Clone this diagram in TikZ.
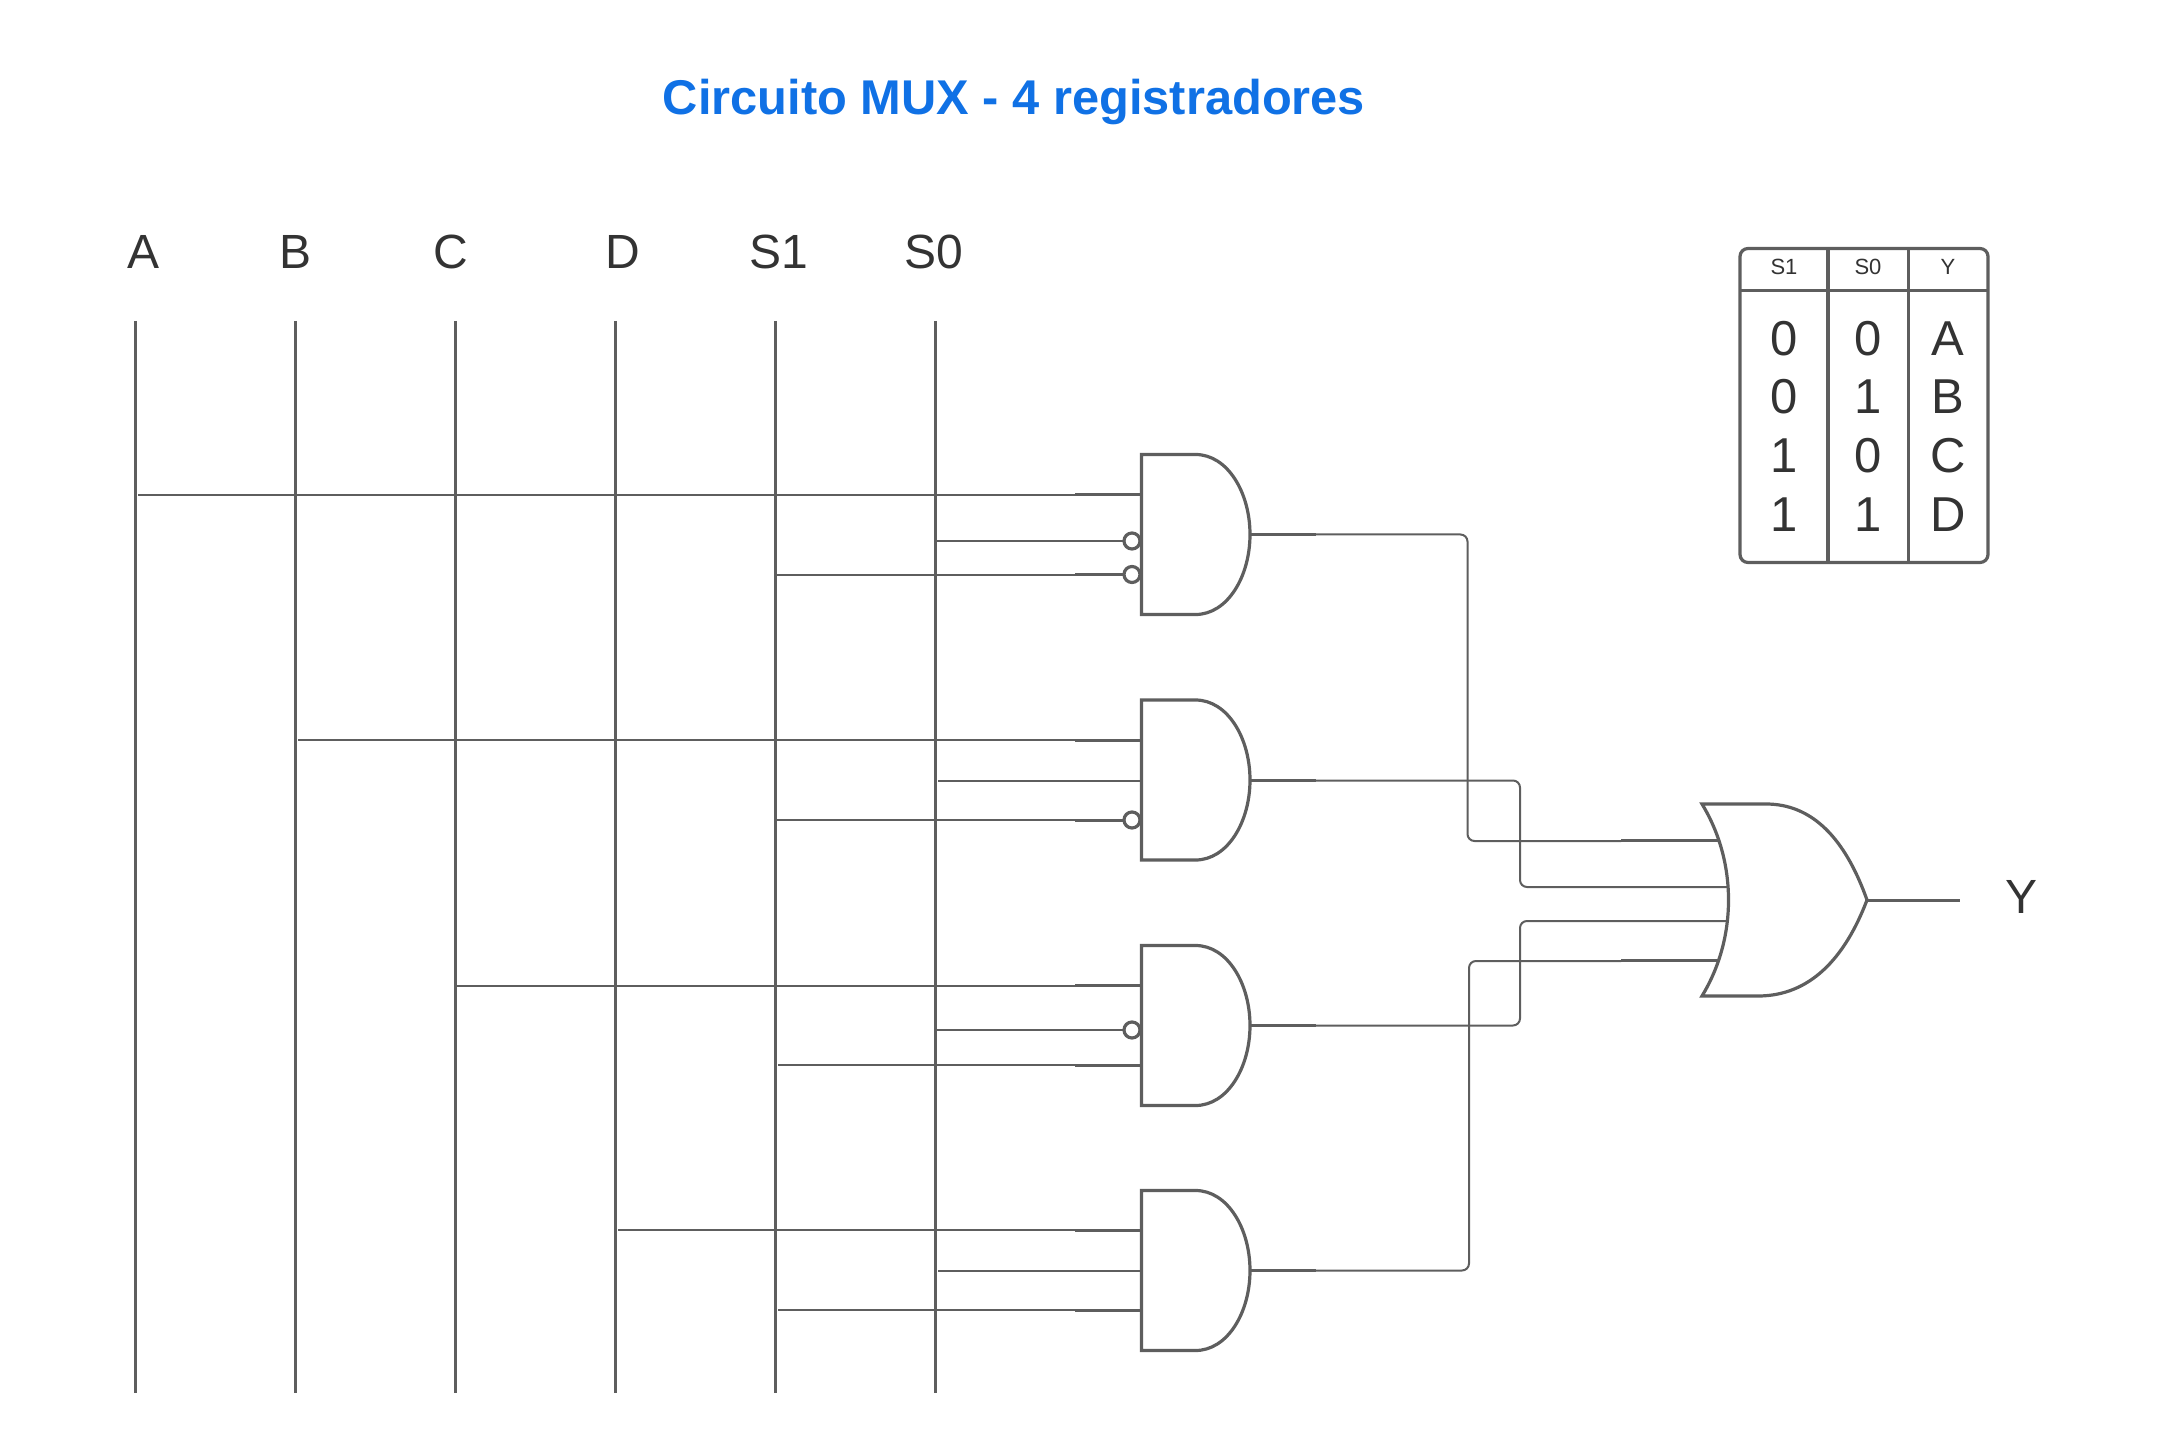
\documentclass[tikz,border=0pt]{standalone}
\usepackage{fontspec}
\setmainfont{Liberation Sans}
\definecolor{wirec}{HTML}{5E5E5E}
\definecolor{textc}{HTML}{333333}
\definecolor{titlec}{HTML}{1071E5}
\tikzset{
  wire/.style={draw=wirec,line width=1pt},
  lead/.style={draw=wirec,line width=1.5pt},
  bus/.style={draw=wirec,line width=1.5pt},
  gateline/.style={draw=wirec,line width=1.6pt,fill=white,line join=miter},
  bubble/.style={circle,draw=wirec,line width=1.6pt,fill=white,inner sep=0pt,minimum size=8pt},
  lbl/.style={text=textc,font=\fontsize{24}{26}\selectfont,inner sep=0pt},
  small/.style={text=textc,font=\fontsize{11}{13}\selectfont,inner sep=0pt},
  cell/.style={text=textc,font=\fontsize{24.5}{26}\selectfont,inner sep=0pt},
  tabline/.style={draw=wirec,line width=1.6pt},
  tabdiv/.style={draw=wirec,line width=1.9pt},
  andgate/.pic={\path[gateline] (0,0) -- (0,160) -- (54,160) .. controls (86,160) and (108.5,122) .. (108.5,80) .. controls (108.5,38) and (86,0) .. (54,0) -- cycle;}
}
\begin{document}
\begin{tikzpicture}[x=0.5pt,y=-0.5pt]
\useasboundingbox (0,0) rectangle (2180,1433);
% title and labels
\node[text=titlec,font=\bfseries\fontsize{24.4}{30}\selectfont,inner sep=0pt] (title) at (1014,102) {Circuito MUX - 4 registradores};
\node[lbl] (la) at (144,251.5) {A};
\node[lbl] (lb) at (296,251.5) {B};
\node[lbl] (lc) at (451,251.5) {C};
\node[lbl] (ld) at (623,251.5) {D};
\node[lbl] (ls1) at (779,251.5) {S1};
\node[lbl] (ls0) at (934,251.5) {S0};
\node[lbl] (ly) at (2021,897) {Y};
% buses
\foreach \n/\x in {a/135.5,b/295.5,c/455.5,d/615.5,s/775.5,r/935.5}{
  \coordinate (\n t) at (\x,321);
  \coordinate (\n b) at (\x,1393);
  \draw[bus] (\n t) -- (\n b);
}
% gate input wires: name / start x / y / lead-start x / end x / lead y
\foreach \n/\xa/\y/\xb/\xc/\yy in {
  i1/138/495/1075/1141/494.5, i2/936/541/1124/1124/541, i3/776/575/1075/1125/574.5,
  j1/298/740/1075/1141/740, j2/938/781/1141/1141/781, j3/776/820/1075/1125/820,
  k1/455/986/1075/1141/985.5, k2/936/1030/1124/1124/1030, k3/778/1065/1075/1141/1065,
  l1/618/1230/1075/1141/1230.5, l2/938/1271/1141/1141/1271, l3/778/1310/1075/1141/1310.5}{
  \coordinate (\n s) at (\xa,\y);
  \coordinate (\n m) at (\xb,\y);
  \coordinate (\n u) at (\xb,\yy);
  \coordinate (\n e) at (\xc,\yy);
  \draw[wire] (\n s) -- (\n m);
  \draw[lead] (\n u) -- (\n e);
}
% and gates
\coordinate (g1) at (1141.5,454.5);
\coordinate (g2) at (1141.5,700);
\coordinate (g3) at (1141.5,945.5);
\coordinate (g4) at (1141.5,1190.5);
\foreach \n in {g1,g2,g3,g4}{\pic at (\n) {andgate};}
% bubbles
\node[bubble] (b1) at (1132,541) {};
\node[bubble] (b2) at (1132,574.5) {};
\node[bubble] (b3) at (1132,820) {};
\node[bubble] (b4) at (1132,1030) {};
% outputs
\coordinate (o1) at (1250,534.5);
\coordinate (o2) at (1250,780.5);
\coordinate (o3) at (1250,1025.5);
\coordinate (o4) at (1250,1270.5);
\coordinate (p1) at (1316,534.5);
\coordinate (p2) at (1316,780.5);
\coordinate (p3) at (1316,1025.5);
\coordinate (p4) at (1316,1270.5);
\foreach \n in {1,2,3,4}{\draw[lead] (o\n) -- (p\n);}
% or inputs
\coordinate (q1) at (1621,841);
\coordinate (q4) at (1621,961);
\coordinate (u1) at (1621,840);
\coordinate (u4) at (1621,960);
\coordinate (r1) at (1718,840);
\coordinate (r2) at (1728,887);
\coordinate (r3) at (1726,921);
\coordinate (r4) at (1718,960);
\draw[wire,rounded corners=3.5pt] (p1) -- (1467.5,534.5) -- (1467.5,841) -- (q1);
\draw[wire,rounded corners=3.5pt] (p2) -- (1520,780.5) -- (1520,887) -- (r2);
\draw[wire,rounded corners=3.5pt] (p3) -- (1520,1025.5) -- (1520,921) -- (r3);
\draw[wire,rounded corners=3.5pt] (p4) -- (1469,1270.5) -- (1469,961) -- (q4);
\draw[lead] (u1) -- (r1);
\draw[lead] (u4) -- (r4);
% or gate
\path[gateline] (1702,804) -- (1766,804) .. controls (1812,804) and (1845,838) .. (1867,900)
  .. controls (1845,958) and (1810,996) .. (1758,996) -- (1702,996)
  .. controls (1719,968) and (1728.5,935) .. (1728.5,900) .. controls (1728.5,865) and (1719,832) .. (1702,804) -- cycle;
\coordinate (ot) at (1867,900);
\coordinate (oe) at (1960,900);
\draw[lead] (ot) -- (oe);
% table
\coordinate (tl) at (1740,248.5);
\coordinate (br) at (1988,562.5);
\draw[tabline,rounded corners=4pt] (tl) rectangle (br);
\draw[tabline] (1740,290.5) -- (1988,290.5);
\draw[tabdiv] (1828,248) -- (1828,563);
\draw[tabdiv] (1908.5,248) -- (1908.5,563);
\node[small] (h1) at (1784,267) {S1};
\node[small] (h2) at (1868,267) {S0};
\node[small] (h3) at (1948,267) {Y};
\foreach \y/\u/\v/\w [count=\i] in {338.5/0/0/A,397/0/1/B,456/1/0/C,515/1/1/D}{
  \node[cell] (ca\i) at (1784.5,\y) {\u};
  \node[cell] (cb\i) at (1868,\y) {\v};
  \node[cell] (cc\i) at (1948,\y) {\w};
}
\end{tikzpicture}
\end{document}
